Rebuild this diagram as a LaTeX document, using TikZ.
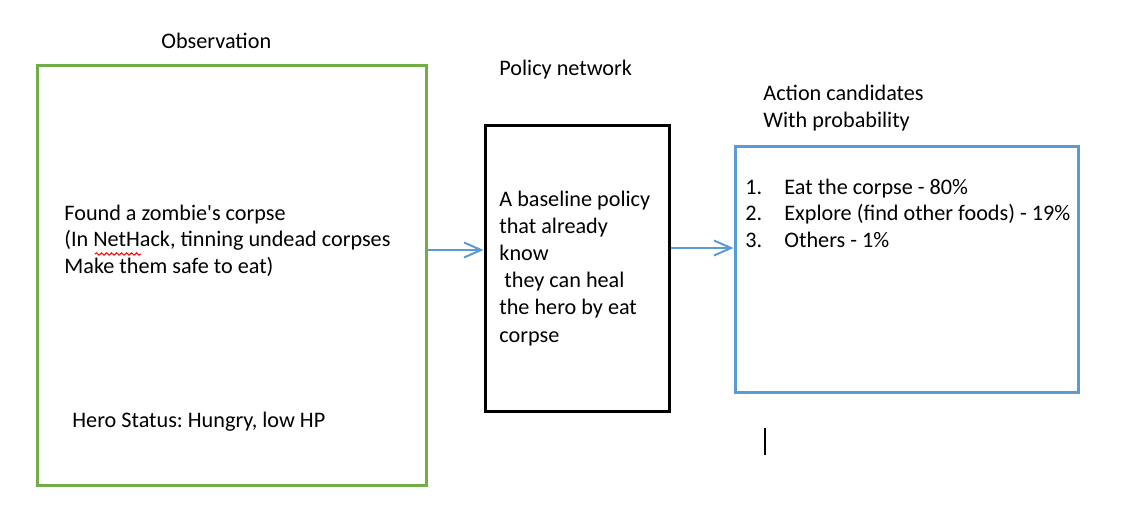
\documentclass[tikz,border=0pt]{standalone}
\usepackage{fontspec}
\setmainfont{Carlito}
\usetikzlibrary{arrows.meta,fit,decorations.pathmorphing}
\definecolor{obsgreen}{HTML}{70AD47}
\definecolor{officeblue}{HTML}{5B9BD5}
\frenchspacing
\begin{document}
\begin{tikzpicture}[x=0.5pt,y=-0.5pt,
  box/.style={draw,line width=1.5pt,inner sep=0pt},
  txt/.style={inner sep=0pt,anchor=base west,align=left,
    font=\fontsize{11.1}{13.25}\selectfont},
  flow/.style={draw=officeblue,line width=1pt,
    -{Straight Barb[length=8.5pt,width=7.5pt,line width=1pt]}}]
\useasboundingbox (0,0) rectangle (1131,509);
% boxes
\node (obs) [box,draw=obsgreen,fit={(37,65) (426,485)}] {};
\node (pol) [box,draw=black,fit={(485,125) (669,411)}] {};
\node (act) [box,draw=officeblue,fit={(735,146) (1078,392)}] {};
% titles (base anchor = baseline of the last line)
\node (tobs) [txt] at (161,48) {Observation};
\node (tpol) [txt] at (499,75) {Policy network};
\node (tact) [txt] at (763,127) {Action candidates\\With probability};
% observation text
\node (obstxt) [txt] at (64,273) {Found a zombie\textquotesingle s corpse\\(In NetHack, tinning undead corpses\\Make them safe to eat)};
\node (hero) [txt] at (72,427) {Hero Status: Hungry, low HP};
% policy text
\node (poltxt) [txt,font=\fontsize{11.1}{13.6}\selectfont] at (499,342) {A baseline policy\\that already\\know\\\ they can heal\\the hero by eat\\corpse};
% action list
\node (nums) [txt] at (745,247) {1.\\2.\\3.};
\node (items) [txt] at (784,247) {Eat the corpse - 80\%\\Explore (find other foods) - 19\%\\Others - 1\%};
% spell-check squiggle
\coordinate (sqa) at (95,254);
\coordinate (sqb) at (141,254);
\draw[red,line width=0.5pt,decorate,decoration={snake,segment length=2.5pt,amplitude=0.6pt}] (sqa) -- (sqb);
% text cursor
\coordinate (cura) at (765,428);
\coordinate (curb) at (765,455);
\draw[black,line width=0.6pt] (cura) -- (curb);
% connectors
\draw[flow] (obs.east |- 0,250) -- (pol.west |- 0,250);
\draw[flow] (pol.east |- 0,248) -- (act.west |- 0,248);
\end{tikzpicture}
\end{document}
